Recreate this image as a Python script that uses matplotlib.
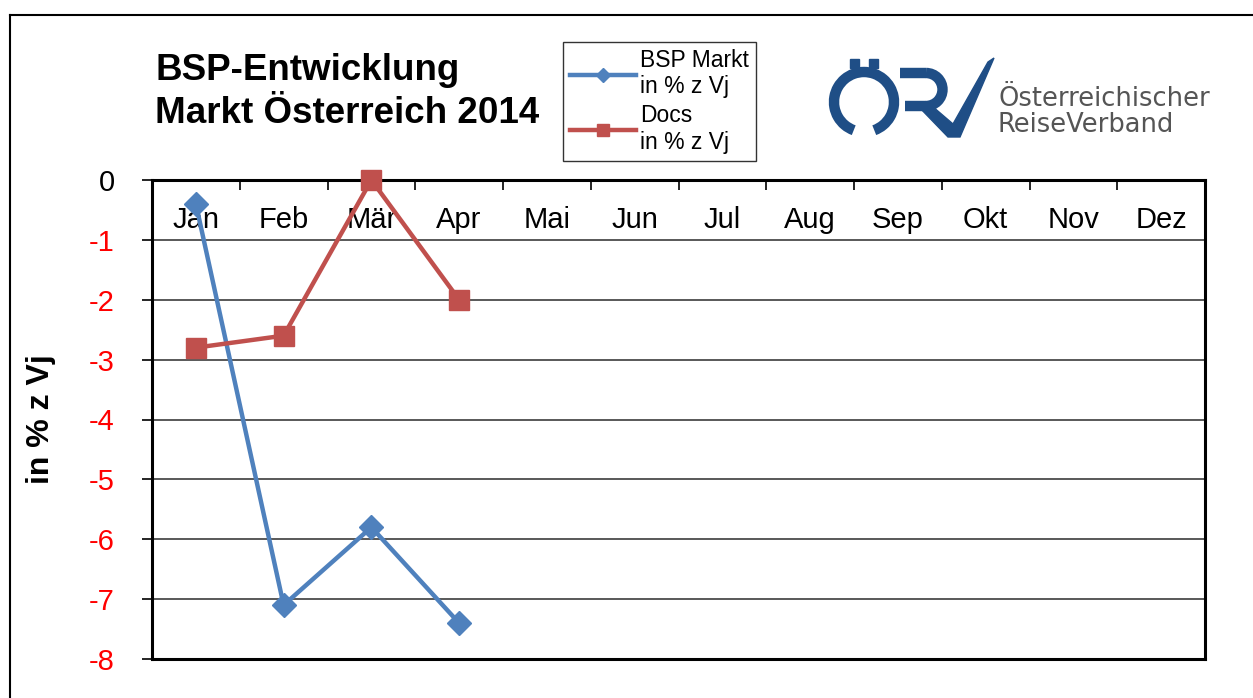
import numpy as np
import matplotlib
matplotlib.use("Agg")
import matplotlib.pyplot as plt
from matplotlib.lines import Line2D
from matplotlib.patches import Arc, Polygon, Rectangle

plt.rcParams['font.family'] = ['Liberation Sans', 'DejaVu Sans']
plt.rcParams['axes.unicode_minus'] = False

# data
months = ["Jan", "Feb", "Mär", "Apr", "Mai", "Jun", "Jul", "Aug", "Sep", "Okt", "Nov", "Dez"]
bsp_markt = [-0.4, -7.1, -5.8, -7.4]
docs = [-2.8, -2.6, 0.0, -2.0]
y_ticks = [0, -1, -2, -3, -4, -5, -6, -7, -8]
y_ticklabels = ["0", "-1", "-2", "-3", "-4", "-5", "-6", "-7", "-8"]

W, H = 1253, 698
fig = plt.figure(figsize=(W / 100, H / 100), dpi=100)
ax = fig.add_axes([152 / W, 1 - 659 / H, 1053 / W, 479 / H])

blue = "#4F81BD"
red = "#C0504D"
ax.plot(range(len(bsp_markt)), bsp_markt, color=blue, lw=3.2, marker="D", ms=12,
        label="BSP Markt\nin % z Vj", zorder=4)
ax.plot(range(len(docs)), docs, color=red, lw=3.2, marker="s", ms=15,
        label="Docs\nin % z Vj", zorder=5, clip_on=False)

ax.set_xlim(-0.5, 11.5)
ax.set_ylim(-8, 0)

# x axis on top, labels inside
ax.xaxis.set_ticks_position("top")
ax.set_xticks(range(12))
ax.set_xticklabels(months, fontsize=21)
ax.tick_params(axis="x", which="major", length=0, pad=-39)
ax.set_xticks(np.arange(0.5, 11, 1), minor=True)
ax.tick_params(axis="x", which="minor", direction="in", length=7, width=1.2, color="black")

ax.set_yticks(y_ticks)
ax.set_yticklabels(y_ticklabels, fontsize=21)
ax.tick_params(axis="y", direction="out", length=7, width=1.2, color="black", pad=20)
for lab in ax.get_yticklabels():
    lab.set_color("black" if lab.get_text() == "0" else "red")

ax.grid(axis="y", color="#3c3c3c", lw=1.2)
ax.set_axisbelow(True)
for s in ax.spines.values():
    s.set_linewidth(2.2)
    s.set_color("black")

ax.set_ylabel("in % z Vj", fontsize=23, fontweight="bold")
ax.yaxis.set_label_coords((56 - 152) / 1053, 0.5)

leg = ax.legend(loc="upper left", bbox_to_anchor=(563 / W, 1 - 42 / H),
                bbox_transform=fig.transFigure, borderaxespad=0, fontsize=16.5,
                frameon=True, fancybox=False, edgecolor="black", handlelength=2.9,
                handletextpad=0.15, markerscale=0.6, borderpad=0.3, labelspacing=0.25)
leg.get_frame().set_linewidth(1.0)

# overlay in pixel coordinates for title, frame and logo
ov = fig.add_axes([0, 0, 1, 1], zorder=-1)
ov.set_xlim(0, W)
ov.set_ylim(H, 0)
ov.axis("off")

ov.add_line(Line2D([10, W], [15, 15], color="black", lw=1.5))
ov.add_line(Line2D([10, 10], [15, H], color="black", lw=1.5))

ov.text(155, 92, "BSP-Entwicklung\nMarkt Österreich 2014", fontsize=26.5, fontweight="bold",
        va="center", ha="left", linespacing=1.3)

# logo
logo_blue = "#1F4E86"
ov.add_patch(Arc((864, 102), 60, 60, theta1=110, theta2=430, lw=7.5, color=logo_blue))
ov.add_patch(Rectangle((850, 59), 9, 9, color=logo_blue))
ov.add_patch(Rectangle((869, 59), 9, 9, color=logo_blue))
# R bowl
ov.add_line(Line2D([900, 926], [73, 73], color=logo_blue, lw=7.5, solid_capstyle="butt"))
ov.add_line(Line2D([905, 926], [106, 106], color=logo_blue, lw=7.5, solid_capstyle="butt"))
ov.add_patch(Arc((926, 89.5), 33, 33, theta1=-90, theta2=90, lw=7.5, color=logo_blue))
# V
ov.add_patch(Polygon([[918, 106], [932, 106], [953, 124], [988, 62], [994, 58],
                      [960, 137], [948, 137]], closed=True, color=logo_blue))
ov.text(998, 99, "Österreichischer", fontsize=18.5, color="#555555", va="center",
        family=["Liberation Sans Narrow", "DejaVu Sans"])
ov.text(998, 125, "ReiseVerband", fontsize=18.5, color="#555555", va="center",
        family=["Liberation Sans Narrow", "DejaVu Sans"])

fig.savefig("out.png", dpi=100)
